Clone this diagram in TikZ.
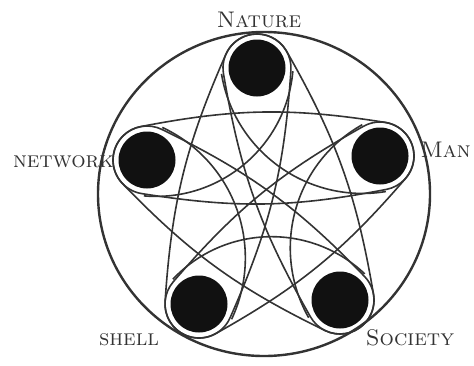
\documentclass[tikz,border=0pt]{standalone}
\usepackage{tikz}
\usetikzlibrary{calc}
\definecolor{ink}{HTML}{111111}
\definecolor{inkgray}{HTML}{333333}
\tikzset{
  orb/.style={circle,fill=ink,minimum size=28.5pt,inner sep=0pt},
  rim/.style={draw=inkgray,line width=1.2pt},
  strand/.style={draw=inkgray,line width=0.8pt},
  tag/.style={font=\fontsize{11.3}{13}\selectfont,text=inkgray,inner sep=0pt}
}

\begin{document}
\begin{tikzpicture}[x=0.5pt,y=0.5pt]
  \path[use as bounding box] (0,0) rectangle (474,365);
  \draw[rim] (264,171) ellipse [x radius=166,y radius=162];

  \node[orb] (nature) at (257,297) {};
  \node[orb] (man) at (380,209) {};
  \node[orb] (society) at (340,65) {};
  \node[orb] (shell) at (199,61) {};
  \node[orb] (network) at (147,205) {};

  % belts between the points of the star
  \foreach \a/\b in {nature/shell,nature/society,network/society,network/man,shell/man}
    \draw[strand] let \p1=(\a.center),\p2=(\b.center),\n1={atan2(\y2-\y1,\x2-\x1)} in
      ($(\p1)+({\n1+100}:34)$) to[bend left=10] ($(\p2)+({\n1+80}:34)$)
      arc[start angle={\n1+80},end angle={\n1-80},radius=34]
      to[bend left=10] ($(\p1)+({\n1-100}:34)$)
      arc[start angle={\n1-100},end angle={\n1-260},radius=34] -- cycle;

  % inner arches between neighbours
  \foreach \a/\b in {nature/network,network/shell,shell/society,society/man,man/nature}
    \draw[strand] let \p1=(\a.center),\p2=(\b.center),\n1={atan2(\y2-\y1,\x2-\x1)} in
      ($(\p1)+({\n1+135}:36)$) to[bend left=45] ($(\p2)+({\n1+45}:36)$);

  \node[tag] (lnature) at (259,345) {\textsc{Nature}};
  \node[tag,anchor=east] (lman) at (471,215) {\textsc{Man}};
  \node[tag,anchor=east] (lnetwork) at (114,203) {\textsc{network}};
  \node[tag] (lshell) at (129,25) {\textsc{shell}};
  \node[tag] (lsociety) at (410,27) {\textsc{Society}};
\end{tikzpicture}
\end{document}
